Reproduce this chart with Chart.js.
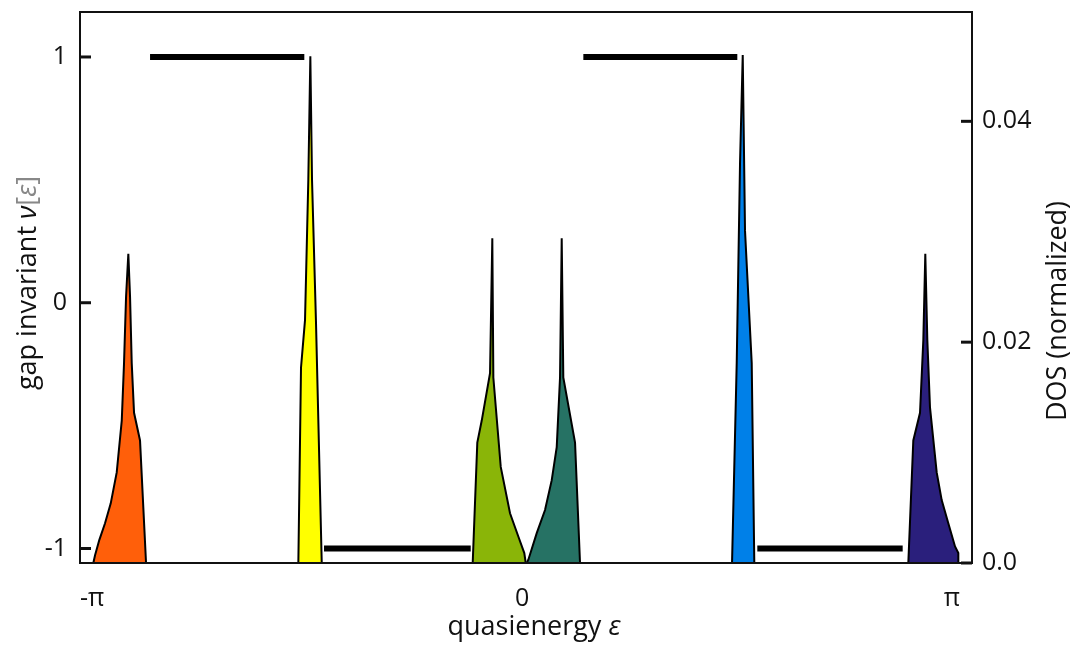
<!DOCTYPE html>
<html>
<head>
<meta charset="utf-8">
<script src="https://cdn.jsdelivr.net/npm/chart.js@4.4.1/dist/chart.umd.min.js"></script>
<style>
  body { margin: 0; background: #fff; }
  #chart { display: block; }
</style>
</head>
<body>
<canvas id="chart" width="1078" height="646"></canvas>
<script>
// x values are in units of pi
var xTickValues = [-1, 0, 1];
var xTickLabels = ['-\u03c0', '0', '\u03c0'];
var nuTicks = [-1, 0, 1];
var dosTicks = [0, 0.02, 0.04];
var dosTickLabels = ['0.0', '0.02', '0.04'];

// gap invariant steps
var gapStart = [-0.8651, -0.4605, 0.1426, 0.5472];
var gapEnd   = [-0.5063, -0.1193, 0.5007, 0.8853];
var gapValue = [1, -1, 1, -1];

// DOS peaks
var orangeX   = [-0.9970, -0.9930, -0.9830, -0.9698, -0.9565, -0.9426, -0.9309, -0.9256, -0.9209, -0.9156, -0.9116, -0.9077, -0.9023, -0.8884, -0.8744];
var orangeDos = [0, 0.0007, 0.0021, 0.0036, 0.0054, 0.0082, 0.0129, 0.0181, 0.0241, 0.0280, 0.0241, 0.0181, 0.0136, 0.0111, 0];

var yellowX   = [-0.5202, -0.5140, -0.5047, -0.4970, -0.4923, -0.4884, -0.4791, -0.4658];
var yellowDos = [0, 0.0177, 0.0220, 0.0347, 0.0459, 0.0347, 0.0217, 0];

var greenX   = [-0.1147, -0.1040, -0.0937, -0.0744, -0.0691, -0.0667, -0.0495, -0.0279, -0.0086, 0.0053, 0.0086];
var greenDos = [0, 0.0109, 0.0129, 0.0172, 0.0294, 0.0168, 0.0087, 0.0045, 0.0024, 0.0009, 0];

var tealX   = [0.0109, 0.0147, 0.0342, 0.0535, 0.0691, 0.0807, 0.0884, 0.0923, 0.0960, 0.1233, 0.1349];
var tealDos = [0, 0.0003, 0.0027, 0.0048, 0.0075, 0.0105, 0.0168, 0.0294, 0.0168, 0.0109, 0];

var blueX   = [0.4884, 0.4993, 0.5070, 0.5133, 0.5186, 0.5342, 0.5402];
var blueDos = [0, 0.0181, 0.0362, 0.0460, 0.0301, 0.0181, 0];

var navyX   = [0.8984, 0.9100, 0.9256, 0.9333, 0.9379, 0.9426, 0.9488, 0.9644, 0.9760, 0.9914, 1.0070, 1.0147, 1.0147];
var navyDos = [0, 0.0111, 0.0136, 0.0202, 0.0280, 0.0202, 0.0141, 0.0082, 0.0057, 0.0036, 0.0015, 0.0009, 0];

var peaks = [
  [orangeX, orangeDos, '#ff5f0a'],
  [yellowX, yellowDos, '#ffff00'],
  [greenX, greenDos, '#8ab508'],
  [tealX, tealDos, '#267264'],
  [blueX, blueDos, '#0080e8'],
  [navyX, navyDos, '#2a1f7c']
];

var FONT = '"Open Sans", "DejaVu Sans", sans-serif';
var INK = '#111';

var datasets = [];
for (var i = 0; i < gapStart.length; i++) {
  datasets.push({
    type: 'line',
    yAxisID: 'y',
    data: [{x: gapStart[i], y: gapValue[i]}, {x: gapEnd[i], y: gapValue[i]}],
    borderColor: '#000',
    borderWidth: 6,
    borderCapStyle: 'butt',
    pointRadius: 0,
    fill: false
  });
}
peaks.forEach(function(p) {
  datasets.push({
    type: 'line',
    yAxisID: 'y2',
    data: p[0].map(function(x, k) { return {x: x, y: p[1][k]}; }),
    borderColor: '#000',
    borderWidth: 2,
    backgroundColor: p[2],
    pointRadius: 0,
    tension: 0,
    fill: 'origin'
  });
});

function drawPieces(ctx, pieces, cx, cy, rot) {
  ctx.save();
  ctx.translate(cx, cy);
  ctx.rotate(rot);
  ctx.textBaseline = 'middle';
  ctx.textAlign = 'left';
  var total = 0;
  pieces.forEach(function(p) { ctx.font = p.font; p.w = ctx.measureText(p.text).width; total += p.w; });
  var x = -total / 2;
  pieces.forEach(function(p) {
    ctx.font = p.font;
    ctx.fillStyle = p.color;
    ctx.fillText(p.text, x, 0);
    x += p.w;
  });
  ctx.restore();
}

var framePlugin = {
  id: 'frame',
  afterDraw: function(chart) {
    var ctx = chart.ctx;
    var a = chart.chartArea;
    ctx.save();
    ctx.strokeStyle = INK;
    ctx.lineWidth = 2;
    ctx.strokeRect(a.left, a.top, a.right - a.left, a.bottom - a.top);
    ctx.lineWidth = 3;
    nuTicks.forEach(function(v) {
      var y = chart.scales.y.getPixelForValue(v);
      ctx.beginPath(); ctx.moveTo(a.left, y); ctx.lineTo(a.left + 11, y); ctx.stroke();
    });
    dosTicks.forEach(function(v) {
      var y = chart.scales.y2.getPixelForValue(v);
      ctx.beginPath(); ctx.moveTo(a.right, y); ctx.lineTo(a.right - 11, y); ctx.stroke();
    });
    ctx.restore();

    var n = '27px ' + FONT, it = 'italic 27px ' + FONT;
    drawPieces(ctx, [
      {text: 'gap invariant ', font: n, color: INK},
      {text: '\u03bd', font: it, color: INK},
      {text: '[', font: n, color: '#888'},
      {text: '\u03b5', font: it, color: '#888'},
      {text: ']', font: n, color: '#888'}
    ], 28, 283, -Math.PI / 2);
    drawPieces(ctx, [{text: 'DOS (normalized)', font: n, color: INK}], 1058, 311, -Math.PI / 2);
    drawPieces(ctx, [
      {text: 'quasienergy ', font: n, color: INK},
      {text: '\u03b5', font: it, color: INK}
    ], 534, 627, 0);
  }
};

var tickFont = {family: FONT, size: 25};

function noPad(s) { s.paddingTop = 0; s.paddingBottom = 0; s.paddingLeft = 0; s.paddingRight = 0; }

new Chart(document.getElementById('chart'), {
  type: 'line',
  data: {datasets: datasets},
  options: {
    responsive: false,
    animation: false,
    layout: {padding: {top: 12, left: 0, right: 0, bottom: 0}},
    plugins: {legend: {display: false}, tooltip: {enabled: false}},
    scales: {
      x: {
        type: 'linear', min: -1.028, max: 1.0465,
        grid: {display: false, drawTicks: false},
        border: {display: false},
        afterBuildTicks: function(s) { s.ticks = xTickValues.map(function(v) { return {value: v}; }); },
        afterFit: function(s) { s.height = 83; noPad(s); },
        ticks: {
          padding: 21, color: INK, font: tickFont, maxRotation: 0, autoSkip: false,
          callback: function(v) { return xTickLabels[xTickValues.indexOf(v)]; }
        }
      },
      y: {
        position: 'left', min: -1.059, max: 1.183,
        grid: {display: false, drawTicks: false},
        border: {display: false},
        afterBuildTicks: function(s) { s.ticks = nuTicks.map(function(v) { return {value: v}; }); },
        afterFit: function(s) { s.width = 80; noPad(s); },
        ticks: {padding: 13, color: INK, font: tickFont}
      },
      y2: {
        position: 'right', min: 0, max: 0.0499,
        grid: {display: false, drawTicks: false},
        border: {display: false},
        afterBuildTicks: function(s) { s.ticks = dosTicks.map(function(v) { return {value: v}; }); },
        afterFit: function(s) { s.width = 106; noPad(s); },
        ticks: {
          padding: 10, color: INK, font: tickFont,
          callback: function(v) { return dosTickLabels[dosTicks.indexOf(v)]; }
        }
      }
    }
  },
  plugins: [framePlugin]
});
</script>
</body>
</html>
